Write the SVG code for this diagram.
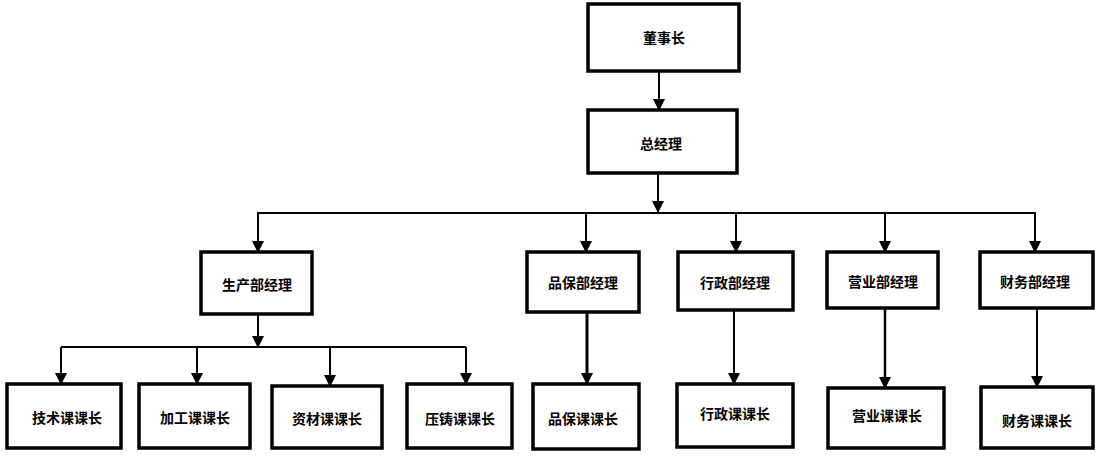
<svg xmlns="http://www.w3.org/2000/svg" width="1100" height="461" viewBox="0 0 1100 461">
<style>
.box{fill:#fff;stroke:#000;stroke-width:3.5}
.lbl{font-family:"Noto Sans CJK SC","Liberation Sans",sans-serif;font-size:14px;font-weight:bold;fill:#000;text-anchor:middle;dominant-baseline:central}
.c{fill:none;stroke:#000;stroke-width:2}
.ca{fill:none;stroke:#000;stroke-width:2;marker-end:url(#ah)}
</style>
<defs>
<marker id="ah" markerUnits="userSpaceOnUse" markerWidth="12" markerHeight="12" viewBox="0 0 12 12" refX="11" refY="6" orient="auto">
<path d="M0,0 L12,6 L0,12 Z" fill="#000"/>
</marker>
</defs>
<rect width="1100" height="461" fill="#fff"/>
<g id="connectors">
<line class="ca" x1="659" y1="71" x2="659" y2="110"/>
<line class="ca" x1="658" y1="173" x2="658" y2="212"/>
<line class="c" x1="257" y1="213" x2="1036" y2="213"/>
<line class="ca" x1="258" y1="213" x2="258" y2="252"/>
<line class="ca" x1="586" y1="213" x2="586" y2="252"/>
<line class="ca" x1="736" y1="213" x2="736" y2="252"/>
<line class="ca" x1="885" y1="213" x2="885" y2="252"/>
<line class="ca" x1="1035" y1="213" x2="1035" y2="252"/>
<line class="ca" x1="258" y1="314" x2="258" y2="347"/>
<line class="c" x1="61" y1="347" x2="466" y2="347"/>
<line class="ca" x1="61" y1="347" x2="61" y2="384"/>
<line class="ca" x1="197" y1="347" x2="197" y2="384"/>
<line class="ca" x1="330" y1="347" x2="330" y2="386"/>
<line class="ca" x1="466" y1="347" x2="466" y2="384"/>
<line class="ca" x1="587" y1="312" x2="587" y2="384" style="stroke-width:3"/>
<line class="ca" x1="734" y1="310" x2="734" y2="384"/>
<line class="ca" x1="885" y1="308" x2="885" y2="388" style="stroke-width:2.5"/>
<line class="ca" x1="1037" y1="308" x2="1037" y2="387"/>
</g>
<g id="n_chairman"><rect class="box" x="588" y="4" width="151" height="67"/><text class="lbl" x="664" y="37">董事长</text></g>
<g id="n_gm"><rect class="box" x="588" y="110" width="149" height="63"/><text class="lbl" x="661" y="143">总经理</text></g>
<g id="n_prod"><rect class="box" x="201" y="252" width="111" height="62"/><text class="lbl" x="257" y="284">生产部经理</text></g>
<g id="n_qa"><rect class="box" x="527" y="252" width="112" height="60"/><text class="lbl" x="583" y="282">品保部经理</text></g>
<g id="n_admin"><rect class="box" x="678" y="252" width="115" height="58"/><text class="lbl" x="735" y="282">行政部经理</text></g>
<g id="n_sales"><rect class="box" x="827" y="252" width="111" height="56"/><text class="lbl" x="883" y="281">营业部经理</text></g>
<g id="n_fin"><rect class="box" x="980" y="252" width="113" height="56"/><text class="lbl" x="1035" y="281">财务部经理</text></g>
<g id="n_tech"><rect class="box" x="7" y="384" width="114" height="64"/><text class="lbl" x="67" y="417">技术课课长</text></g>
<g id="n_proc"><rect class="box" x="139" y="384" width="111" height="64"/><text class="lbl" x="195" y="417">加工课课长</text></g>
<g id="n_mat"><rect class="box" x="272" y="386" width="110" height="62"/><text class="lbl" x="327" y="418">资材课课长</text></g>
<g id="n_die"><rect class="box" x="407" y="384" width="105" height="64"/><text class="lbl" x="460" y="418">压铸课课长</text></g>
<g id="n_qac"><rect class="box" x="533" y="384" width="106" height="65"/><text class="lbl" x="583" y="418">品保课课长</text></g>
<g id="n_adminc"><rect class="box" x="677" y="384" width="116" height="63"/><text class="lbl" x="735" y="413">行政课课长</text></g>
<g id="n_salesc"><rect class="box" x="828" y="388" width="116" height="60"/><text class="lbl" x="887" y="415">营业课课长</text></g>
<g id="n_finc"><rect class="box" x="981" y="387" width="112" height="61"/><text class="lbl" x="1037" y="420">财务课课长</text></g>
</svg>
